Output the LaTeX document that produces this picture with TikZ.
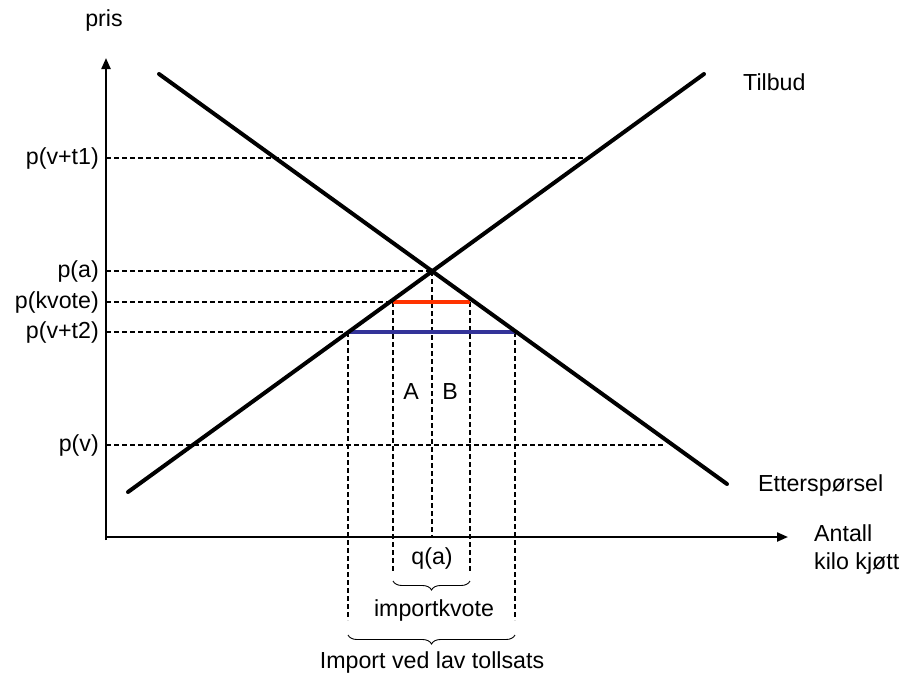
\documentclass[tikz,border=0pt]{standalone}
\usepackage{fontspec}
\setmainfont{Liberation Sans}
\usetikzlibrary{arrows.meta,decorations.pathreplacing}
\definecolor{kred}{RGB}{255,51,0}
\definecolor{kblue}{RGB}{51,51,153}
\tikzset{
  curve/.style={line width=4pt,line cap=round},
  axis/.style={line width=2.2pt,-{Triangle[length=11pt,width=9pt]}},
  guide/.style={line width=1.6pt,dash pattern=on 5pt off 3pt},
  lbl/.style={font=\fontsize{23.2}{28}\selectfont,inner sep=0pt},
  brc/.style={decorate,decoration={brace,mirror,amplitude=9pt},line width=0.9pt}
}
\begin{document}
\begin{tikzpicture}[x=1pt,y=-1pt]
\useasboundingbox (0,0) rectangle (904,673);
% axes
\coordinate (O) at (106,537);
\coordinate (Ytop) at (106,58);
\coordinate (Xend) at (788,537);
\draw[axis] (106,540) -- (Ytop);
\draw[axis] (105,537) -- (Xend);
% curves
\coordinate (S0) at (128,492);
\coordinate (S1) at (704,74);
\coordinate (D0) at (159,74);
\coordinate (D1) at (727,484);
% key points
\coordinate (E) at (432,271);
\coordinate (Pt1) at (588,158);
\coordinate (Pv) at (664,445);
\coordinate (Rk1) at (393,302);
\coordinate (Rk2) at (470,302);
\coordinate (Bt1) at (348,332);
\coordinate (Bt2) at (515,332);
% axis ends of guides
\coordinate (Ya) at (106,271);
\coordinate (Yk) at (106,302);
\coordinate (Yt2) at (106,332);
\coordinate (Yt1) at (106,158);
\coordinate (Yv) at (106,445);
% horizontal guides
\draw[guide] (Yt1) -- (Pt1);
\draw[guide] (Ya) -- (E);
\draw[guide] (Yk) -- (Rk1);
\draw[guide] (Yt2) -- (Bt1);
\draw[guide] (Yv) -- (Pv);
% vertical guides
\coordinate (QaB) at (432,537);
\coordinate (Rk1B) at (393,572);
\coordinate (Rk2B) at (470,572);
\coordinate (Bt1B) at (348,620);
\coordinate (Bt2B) at (515,620);
\draw[guide] (E) -- (QaB);
\draw[guide] (Rk1) -- (Rk1B);
\draw[guide] (Rk2) -- (Rk2B);
\draw[guide] (Bt1) -- (Bt1B);
\draw[guide] (Bt2) -- (Bt2B);
% price lines
\draw[line width=4pt,kred] (Rk1) -- (Rk2);
\draw[line width=4pt,kblue] (Bt1) -- (Bt2);
% supply and demand
\draw[curve] (S0) -- (S1);
\draw[curve] (D0) -- (D1);
% braces
\coordinate (b1a) at (393,581);
\coordinate (b1b) at (470,581);
\coordinate (b2a) at (348,635);
\coordinate (b2b) at (515,635);
\draw[brc] (b1a) -- (b1b);
\draw[brc] (b2a) -- (b2b);
% labels
\node[lbl] (pris) at (104,20) {pris};
\node[lbl,anchor=east] (lt1) at (99,158) {p(v+t1)};
\node[lbl,anchor=east] (la) at (99,271) {p(a)};
\node[lbl,anchor=east] (lk) at (99,302) {p(kvote)};
\node[lbl,anchor=east] (lt2) at (99,332) {p(v+t2)};
\node[lbl,anchor=east] (lv) at (99,445) {p(v)};
\node[lbl,anchor=west] (tilbud) at (743,82) {Tilbud};
\node[lbl,anchor=west] (ettersp) at (758,485) {Etterspørsel};
\node[lbl,anchor=west,align=left] (antall) at (814,549) {Antall\\kilo kjøtt};
\node[lbl] (A) at (411,392) {A};
\node[lbl] (B) at (450,392) {B};
\node[lbl] (qa) at (432,558) {q(a)};
\node[lbl] (ikv) at (434,610) {importkvote};
\node[lbl] (ivlt) at (432,662) {Import ved lav tollsats};
\end{tikzpicture}
\end{document}
